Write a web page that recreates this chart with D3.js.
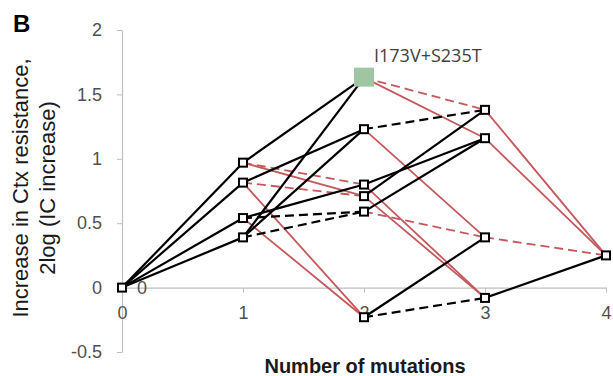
<!DOCTYPE html>
<html>
<head>
<meta charset="utf-8">
<script src="https://cdn.jsdelivr.net/npm/d3@7"></script>
<style>
  body { margin: 0; background: #fff; }
  .axis path, .axis line { stroke: #bfbfbf; }
  .axis text { fill: #505050; font-family: "Liberation Sans", Arial, sans-serif; font-size: 18px; }
</style>
</head>
<body>
<div class="main"></div>
<script>
const WIDTH = 613;
const HEIGHT = 376;

// genotypes of the 4 mutations (A..D), mutation count and resistance
const genotypes = ["0", "A", "B", "C", "D", "AB", "AC", "AD", "BC", "BD", "CD", "ABC", "ABD", "ACD", "BCD", "ABCD"];
const nMutations = [0, 1, 1, 1, 1, 2, 2, 2, 2, 2, 2, 3, 3, 3, 3, 4];
const resistance = [0, 0.97, 0.815, 0.54, 0.39, 0.71, 0.80, 1.63, -0.23, 1.23, 0.59, -0.08, 1.38, 1.16, 0.39, 0.25];

// steps between genotypes: up = black, down = red, ns = dashed
const edgeFrom = ["0", "0", "0", "0",
    "A", "D", "B", "D", "A", "B", "A", "C", "C", "D", "B", "C",
    "AD", "BD", "AB", "AD", "AC", "CD", "BD", "BC", "CD", "BC", "AC", "AB",
    "ABD", "ACD", "BCD", "ABC"];
const edgeTo = ["A", "B", "C", "D",
    "AD", "AD", "BD", "BD", "AB", "AB", "AC", "AC", "CD", "CD", "BC", "BC",
    "ABD", "ABD", "ABD", "ACD", "ACD", "ACD", "BCD", "BCD", "BCD", "ABC", "ABC", "ABC",
    "ABCD", "ABCD", "ABCD", "ABCD"];
const edgeType = ["up", "up", "up", "up",
    "up", "up", "up", "up", "down", "downNs", "downNs", "up", "upNs", "upNs", "down", "down",
    "downNs", "upNs", "up", "down", "up", "up", "down", "up", "downNs", "upNs", "down", "down",
    "down", "down", "downNs", "up"];

const highlight = "AD";
const highlightLabel = "I173V+S235T";
const xTicks = [0, 1, 2, 3, 4];
const yTicks = [-0.5, 0, 0.5, 1, 1.5, 2];

var svg = d3.select(".main")
    .append("svg")
        .attr("width", WIDTH)
        .attr("height", HEIGHT);

var x = d3.scaleLinear().domain([0, 4]).range([122, 606]);
var y = d3.scaleLinear().domain([-0.5, 2]).range([352, 30]);

// axes
svg.append("g")
    .attr("class", "axis")
    .attr("transform", `translate(${x(0)},0)`)
    .call(d3.axisLeft(y).tickValues(yTicks).tickSize(5).tickSizeOuter(0)
        .tickPadding(15).tickFormat(d => String(d)));

svg.append("g")
    .attr("class", "axis")
    .attr("transform", `translate(0,${y(0)})`)
    .call(d3.axisBottom(x).tickValues(xTicks).tickSize(5).tickSizeOuter(0)
        .tickPadding(14).tickFormat(d => String(d)));

svg.selectAll(".axis .domain").attr("stroke-width", 1.2);

var nodes = genotypes.map((g, i) => ({ id: g, n: nMutations[i], v: resistance[i] }));
var byId = new Map(nodes.map(d => [d.id, d]));
var edges = edgeFrom.map((s, i) => ({ source: byId.get(s), target: byId.get(edgeTo[i]), type: edgeType[i] }));

function edgeColor(t) {
    return t.startsWith("up") ? "#000000" : "#c4585c";
}

// red first, black over them
var order = ["downNs", "down", "upNs", "up"];
edges.sort((a, b) => order.indexOf(a.type) - order.indexOf(b.type));

svg.append("g")
    .selectAll("line")
    .data(edges)
    .join("line")
        .attr("x1", d => x(d.source.n))
        .attr("y1", d => y(d.source.v))
        .attr("x2", d => x(d.target.n))
        .attr("y2", d => y(d.target.v))
        .attr("stroke", d => edgeColor(d.type))
        .attr("stroke-width", d => d.type.startsWith("up") ? 2.2 : 1.8)
        .attr("stroke-dasharray", d => d.type.endsWith("Ns") ? "9,5" : null);

// markers
svg.append("g")
    .selectAll("rect")
    .data(nodes.filter(d => d.id !== highlight))
    .join("rect")
        .attr("x", d => x(d.n) - 4)
        .attr("y", d => y(d.v) - 4)
        .attr("width", 8)
        .attr("height", 8)
        .attr("fill", "#fff")
        .attr("stroke", "#000")
        .attr("stroke-width", 2);

var hl = byId.get(highlight);
svg.append("rect")
    .attr("x", x(hl.n) - 10)
    .attr("y", y(hl.v) - 10)
    .attr("width", 20)
    .attr("height", 19)
    .attr("fill", "#a0c5a2");

svg.append("text")
    .attr("x", x(hl.n) + 10)
    .attr("y", y(hl.v) - 16)
    .attr("font-family", "'Open Sans', sans-serif")
    .attr("font-size", 18)
    .attr("fill", "#404040")
    .text(highlightLabel);

// data label at origin
var origin = byId.get("0");
svg.append("text")
    .attr("x", x(origin.n) + 15)
    .attr("y", y(origin.v))
    .attr("dy", "0.35em")
    .attr("font-family", "'Liberation Sans', Arial, sans-serif")
    .attr("font-size", 18)
    .attr("fill", "#505050")
    .text("0");

// titles
svg.append("text")
    .attr("x", 13)
    .attr("y", 32)
    .attr("font-family", "'Liberation Sans', Arial, sans-serif")
    .attr("font-weight", "bold")
    .attr("font-size", 24)
    .text("B");

svg.append("text")
    .attr("x", 365)
    .attr("y", 373)
    .attr("text-anchor", "middle")
    .attr("font-family", "'Liberation Sans', Arial, sans-serif")
    .attr("font-weight", "bold")
    .attr("font-size", 20)
    .attr("fill", "#1a1a1a")
    .text("Number of mutations");

var yTitle = svg.append("text")
    .attr("transform", "translate(0,188) rotate(-90)")
    .attr("text-anchor", "middle")
    .attr("font-family", "'Liberation Sans', Arial, sans-serif")
    .attr("font-size", 22)
    .attr("fill", "#1a1a1a");
yTitle.append("tspan").attr("x", 0).attr("y", 28).text("Increase in Ctx resistance,");
yTitle.append("tspan").attr("x", 0).attr("y", 55).text("2log (IC increase)");
</script>
</body>
</html>
